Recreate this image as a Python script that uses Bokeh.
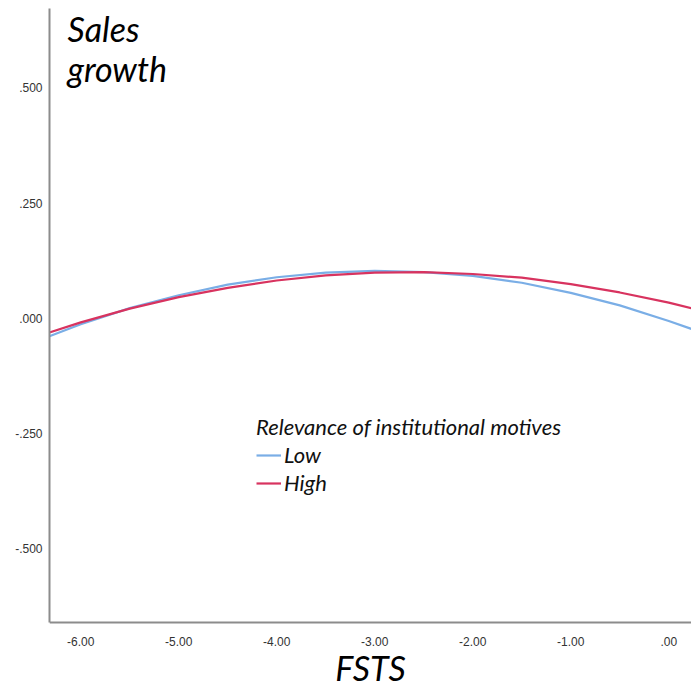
from bokeh.plotting import figure
from bokeh.models import Range1d, FixedTicker, Label, Legend, LegendItem
from bokeh.embed import file_html
from bokeh.resources import INLINE

# FSTS values at which the fitted curves were read
fsts = [-6.32, -6.0, -5.5, -5.0, -4.5, -4.0, -3.5, -3.0, -2.5, -2.0, -1.5, -1.0, -0.5, 0.0, 0.23]

# Predicted sales growth, low relevance of institutional motives
growth_low = [-0.039, -0.013, 0.022, 0.050, 0.073, 0.089, 0.099, 0.103, 0.100,
              0.092, 0.077, 0.055, 0.028, -0.006, -0.023]

# Predicted sales growth, high relevance of institutional motives
growth_high = [-0.031, -0.009, 0.021, 0.046, 0.066, 0.082, 0.093, 0.099, 0.100,
               0.096, 0.088, 0.074, 0.056, 0.034, 0.022]

x_ticks = [-6, -5, -4, -3, -2, -1, 0]
x_tick_labels = ["-6.00", "-5.00", "-4.00", "-3.00", "-2.00", "-1.00", ".00"]
y_ticks = [-0.5, -0.25, 0, 0.25, 0.5]
y_tick_labels = ["-.500", "-.250", ".000", ".250", ".500"]

series_names = ["Low", "High"]
colors = ["#7AAEE6", "#D8335F"]

TITLE_FONT = "Lato"

# Value axis spans Y_LOW..Y_HIGH; the frame continues below it so the
# FSTS axis (pinned at Y_LOW) and its title sit inside the drawing area.
Y_LOW, Y_HIGH = -0.660, 0.672
PX_PER_UNIT = 461.0

p = figure(width=691, height=688, output_backend="svg", toolbar_location=None,
           x_range=Range1d(-6.319, 0.232),
           y_range=Range1d(Y_LOW - 66 / PX_PER_UNIT, Y_HIGH),
           min_border_left=49, min_border_right=0, min_border_top=8,
           min_border_bottom=0)
p.outline_line_color = None
p.background_fill_color = "white"
p.border_fill_color = "white"
p.xgrid.visible = False
p.ygrid.visible = False

for ax in (p.xaxis[0], p.yaxis[0]):
    ax.axis_line_color = "#8C8C8C"
    ax.axis_line_width = 2
    ax.major_tick_line_color = None
    ax.minor_tick_line_color = None
    ax.major_tick_out = 0
    ax.major_tick_in = 0
    ax.minor_tick_out = 0
    ax.minor_tick_in = 0
    ax.major_label_text_font = "Liberation Sans"
    ax.major_label_text_font_size = "12px"
    ax.major_label_text_color = "#333333"

p.xaxis.fixed_location = Y_LOW
p.xaxis.ticker = FixedTicker(ticks=x_ticks)
p.xaxis.major_label_overrides = dict(zip(x_ticks, x_tick_labels))
p.xaxis.major_label_standoff = 14
p.xaxis.axis_label = "FSTS"
p.xaxis.axis_label_text_font = TITLE_FONT
p.xaxis.axis_label_text_font_style = "italic"
p.xaxis.axis_label_text_font_size = "34px"
p.xaxis.axis_label_text_color = "black"
p.xaxis.axis_label_standoff = -2

p.yaxis.bounds = (Y_LOW, Y_HIGH)
p.yaxis.ticker = FixedTicker(ticks=y_ticks)
p.yaxis.major_label_overrides = dict(zip(y_ticks, y_tick_labels))
p.yaxis.major_label_standoff = 7

r_low = p.line(fsts, growth_low, line_color=colors[0], line_width=2.2)
r_high = p.line(fsts, growth_high, line_color=colors[1], line_width=2.2)

legend = Legend(
    items=[LegendItem(label=series_names[0], renderers=[r_low]),
           LegendItem(label=series_names[1], renderers=[r_high])],
    title="Relevance of institutional motives",
    location=(207, 192),
    orientation="vertical",
    padding=0, margin=0, spacing=1,
    title_standoff=1,
    glyph_width=25, glyph_height=20, label_height=20, label_standoff=3,
    border_line_color=None, background_fill_alpha=0,
    title_text_font=TITLE_FONT, title_text_font_style="italic",
    title_text_font_size="22px", title_text_color="#111111",
    label_text_font=TITLE_FONT, label_text_font_style="italic",
    label_text_font_size="22px", label_text_color="#111111",
)
p.add_layout(legend, "center")

label_style = dict(x_units="screen", y_units="screen", text_font=TITLE_FONT,
                   text_font_style="italic", text_font_size="34px",
                   text_color="black", text_baseline="alphabetic")
p.add_layout(Label(x=18, y=660, text="Sales", **label_style))
p.add_layout(Label(x=18, y=620, text="growth", **label_style))

open("out.html", "w").write(file_html(p, INLINE))
